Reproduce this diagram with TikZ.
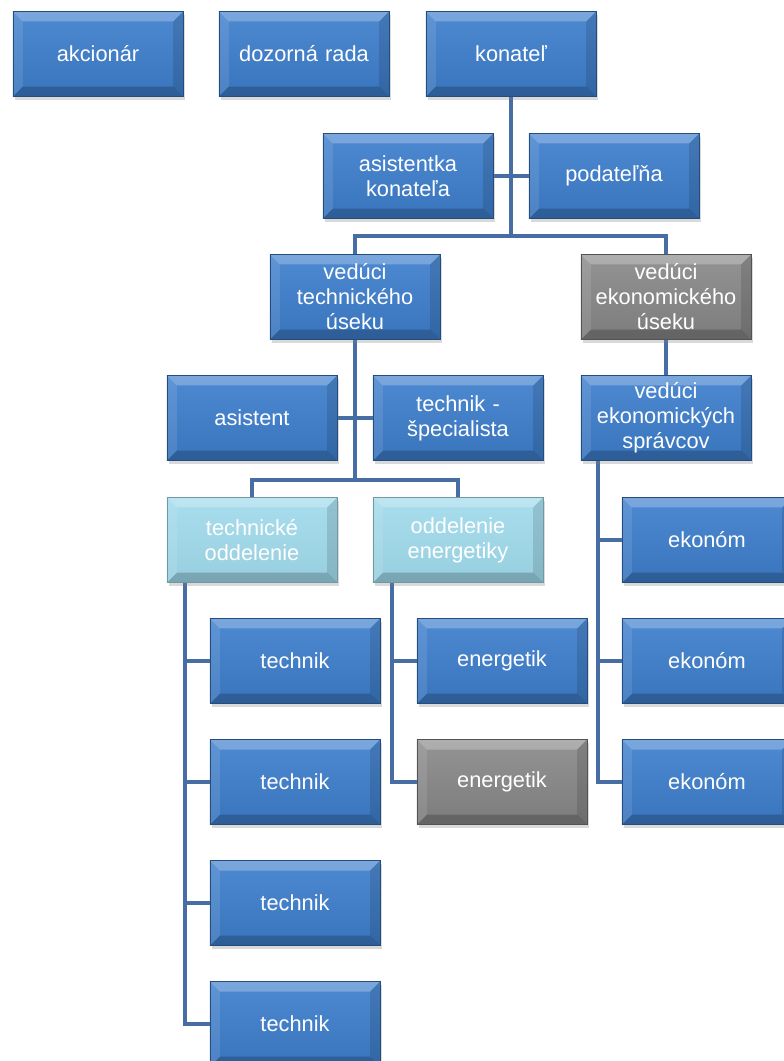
\documentclass[tikz,border=0pt]{standalone}
\usepackage{fontspec}
\setmainfont{Liberation Sans}
\usetikzlibrary{shadows,backgrounds}

\definecolor{boxblue}{RGB}{62,127,205}
\definecolor{boxgray}{RGB}{138,138,138}
\definecolor{boxcyan}{RGB}{160,218,235}
\definecolor{linkblue}{RGB}{70,110,165}

\tikzset{
  bevel/.style={
    path picture={
      \path (path picture bounding box.north west) coordinate (nw)
            (path picture bounding box.south east) coordinate (se)
            (nw |- se) coordinate (sw) (se |- nw) coordinate (ne);
      \fill[white,opacity=.25] (nw) -- (ne) -- ([shift={(-10,10)}]ne) -- ([shift={(10,10)}]nw) -- cycle;
      \fill[black,opacity=.2] (sw) -- (se) -- ([shift={(-10,-10)}]se) -- ([shift={(10,-10)}]sw) -- cycle;
      \fill[white,opacity=.1] (nw) -- (sw) -- ([shift={(10,-10)}]sw) -- ([shift={(10,10)}]nw) -- cycle;
      \fill[black,opacity=.12] (ne) -- (se) -- ([shift={(-10,-10)}]se) -- ([shift={(-10,10)}]ne) -- cycle;
    }},
  orgbox/.style={bevel, minimum width=4.25cm, minimum height=2.125cm,
    text width=4cm, align=center, text=white, inner sep=0pt,
    font=\fontsize{15.5}{17.8}\selectfont,
    drop shadow={opacity=.3, shadow xshift=.04cm, shadow yshift=-.08cm}},
  bluebox/.style={orgbox, top color=boxblue!92!white, bottom color=boxblue!92!black, draw=boxblue!60!black, line width=.3pt},
  graybox/.style={orgbox, top color=boxgray!92!white, bottom color=boxgray!90!black, draw=boxgray!60!black, line width=.3pt},
  cyanbox/.style={orgbox, top color=boxcyan!92!white, bottom color=boxcyan!95!black, draw=boxcyan!70!black, line width=.3pt},
  link/.style={draw=linkblue, line width=3.4pt}
}

\begin{document}
\begin{tikzpicture}[x=0.025cm, y=-0.025cm]
  \useasboundingbox (0,0) rectangle (784,1061);
  \clip (0,0) rectangle (784,1061);

  % top row
  \node[bluebox] (akc) at (98,54)  {akcionár};
  \node[bluebox] (dozr) at (304,54) {dozorná rada};
  \node[bluebox] (kon) at (511,54) {konateľ};

  \node[bluebox] (ast) at (408,176) {asistentka\\konateľa};
  \node[bluebox] (pod) at (614,176) {podateľňa};

  % useky
  \node[bluebox] (vts) at (355,297) {vedúci\\technického\\úseku};
  \node[graybox] (ves) at (666,297) {vedúci\\ekonomického\\úseku};

  \node[bluebox] (asi) at (252,418) {asistent};
  \node[bluebox] (spec) at (458,418) {technik -\\špecialista};
  \node[bluebox] (vsp) at (666,418) {vedúci\\ekonomických\\správcov};

  \node[cyanbox] (tod) at (252,540) {technické\\oddelenie};
  \node[cyanbox] (oen) at (458,540) {oddelenie\\energetiky};

  % technici
  \foreach \i/\y in {1/661,2/782,3/903,4/1024}
    \node[bluebox] (t\i) at (295,\y) {technik};

  \node[bluebox] (en1) at (502,661) {energetik};
  \node[graybox] (en2) at (502,782) {energetik};

  \foreach \i/\y in {1/540,2/661,3/782}
    \node[bluebox] (ek\i) at (707,\y) {ekonóm};

  \begin{scope}[on background layer]
    \coordinate (j1) at (511,236);
    \coordinate (j2) at (355,480);
    \coordinate (tsp) at (185,582);
    \coordinate (esp) at (392,582);
    \coordinate (ksp) at (598,461);

    \draw[link] (kon.south) -- (j1);
    \draw[link] (ast.east) -- (pod.west);
    \draw[link] (vts.north) |- (j1) -| (ves.north);

    \draw[link] (vts.south) -- (j2);
    \draw[link] (asi.east) -- (spec.west);
    \draw[link] (tod.north) |- (j2) -| (oen.north);
    \draw[link] (ves.south) -- (vsp.north);

    \draw[link] (tsp) |- (t4.west);
    \foreach \n in {t1,t2,t3}
      \draw[link] (\n.west) -- (\n.west -| tsp);
    \draw[link] (esp) |- (en2.west);
    \draw[link] (en1.west) -- (en1.west -| esp);
    \draw[link] (ksp) |- (ek3.west);
    \foreach \n in {ek1,ek2}
      \draw[link] (\n.west) -- (\n.west -| ksp);
  \end{scope}
\end{tikzpicture}
\end{document}
